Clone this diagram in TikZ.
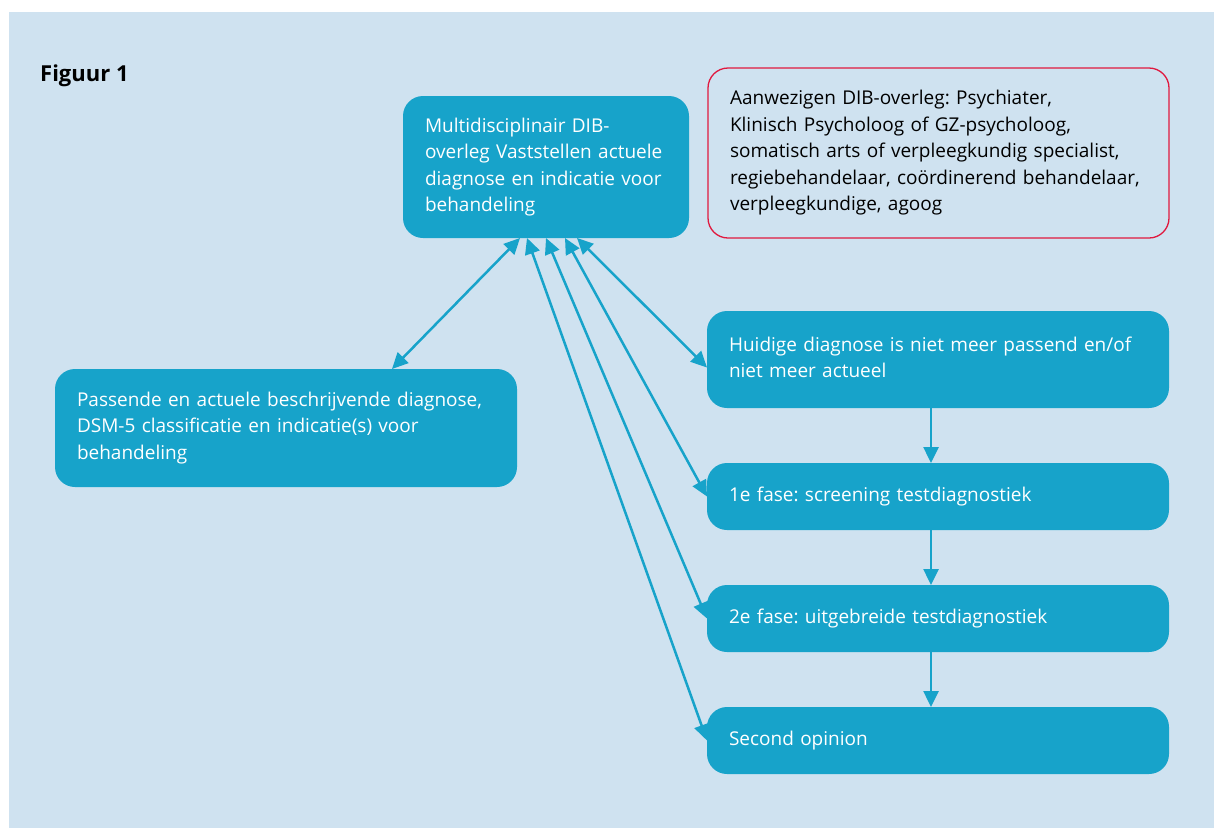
\documentclass[tikz,border=0pt]{standalone}
\usepackage{fontspec}
\setmainfont{Open Sans}
\usetikzlibrary{positioning}
\usetikzlibrary{arrows.meta}

\definecolor{dibblauw}{HTML}{17A3CA}
\definecolor{achtergrond}{HTML}{CFE2F0}
\definecolor{dibrood}{HTML}{E0193F}

\tikzset{
  blok/.style={rectangle, rounded corners=20pt, fill=dibblauw, text=white, align=left,
    inner xsep=22pt, inner ysep=0pt, outer sep=0pt, text width=418pt, minimum width=462pt,
    font=\fontsize{19}{26.5}\selectfont},
  pijl/.style={dibblauw, line width=2.5pt, -{Triangle[length=16pt,width=15pt]}},
  dubbelpijl/.style={pijl, {Triangle[length=16pt,width=15pt]}-{Triangle[length=16pt,width=15pt]}},
}

\begin{document}
\frenchspacing
\begin{tikzpicture}[x=1pt,y=-1pt]
\useasboundingbox (0,0) rectangle (1214,828);
\fill[achtergrond] (9,12) rectangle (1214,828);

\node[anchor=base west, inner sep=0pt, font=\bfseries\fontsize{22}{26}\selectfont] (titel) at (40,81) {Figuur 1};

% overleg en aanwezigen
\node[blok, anchor=north west, text width=242pt, minimum width=286pt, minimum height=142pt] (overleg) at (403,96)
  {Multidisciplinair DIB-\\overleg Vaststellen actuele\\diagnose en indicatie voor\\behandeling};
\node[blok, anchor=north west, draw=dibrood, fill=none, text=black, line width=1.3pt,
  text width=417pt, minimum width=461pt, minimum height=170pt] (aanwezig) at (708,68)
  {Aanwezigen DIB-overleg: Psychiater,\\Klinisch Psycholoog of GZ-psycholoog,\\somatisch arts of verpleegkundig specialist,\\regiebehandelaar, co\"ordinerend behandelaar,\\verpleegkundige, agoog};

\node[blok, anchor=north west, minimum height=118pt] (passend) at (55,369)
  {Passende en actuele beschrijvende diagnose,\\DSM-5 classificatie en indicatie(s) voor\\behandeling};

% rechter kolom
\node[blok, anchor=north west, minimum height=97pt] (huidig) at (707,311)
  {Huidige diagnose is niet meer passend en/of\\niet meer actueel\vphantom{p}\\[6pt]};
\node[blok, below=55pt of huidig, minimum height=67pt] (fase1) {1e fase: screening testdiagnostiek};
\node[blok, below=55pt of fase1, minimum height=67pt] (fase2) {2e fase: uitgebreide testdiagnostiek};
\node[blok, below=55pt of fase2, minimum height=67pt] (second) {Second opinion};

\draw[dubbelpijl] ([xshift=-26pt]overleg.south) -- ([xshift=106pt]passend.north);
\draw[dubbelpijl] ([xshift=31pt]overleg.south) -- ([yshift=-8pt]huidig.west);
\draw[dubbelpijl] ([xshift=19pt]overleg.south) -- (fase1.west);
\draw[dubbelpijl] (overleg.south) -- (fase2.west);
\draw[dubbelpijl] ([xshift=-19pt]overleg.south) -- (second.west);

\draw[pijl] ([xshift=-7pt]huidig.south) -- ([xshift=-7pt]fase1.north);
\draw[pijl] ([xshift=-7pt]fase1.south) -- ([xshift=-7pt]fase2.north);
\draw[pijl] ([xshift=-7pt]fase2.south) -- ([xshift=-7pt]second.north);

\end{tikzpicture}
\end{document}
